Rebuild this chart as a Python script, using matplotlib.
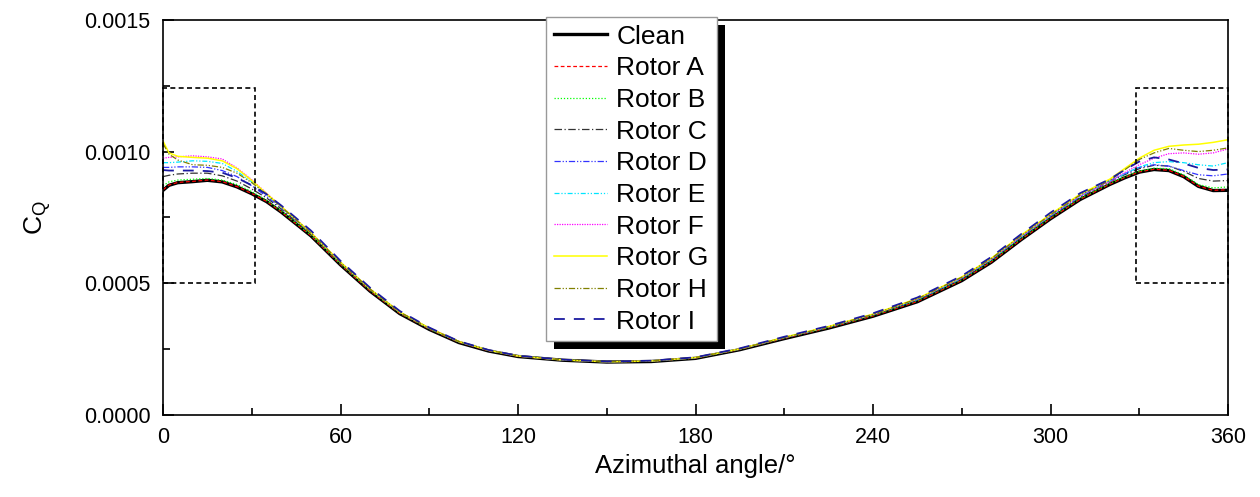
import matplotlib
matplotlib.use('Agg')
import matplotlib.pyplot as plt
from matplotlib.patches import Rectangle
from matplotlib.ticker import MultipleLocator, FormatStrFormatter

plt.rcParams['font.family'] = ['Liberation Sans', 'DejaVu Sans']

# azimuthal positions (deg) shared by every series
angle = [0, 2, 5, 10, 15, 20, 25, 30, 35, 40, 50, 60, 70, 80, 90, 100, 110, 120,
         135, 150, 165, 180, 195, 210, 225, 240, 255, 270, 280, 290, 300, 310,
         320, 325, 330, 335, 340, 345, 350, 355, 360]

clean = [0.000853, 0.000872, 0.000882, 0.000886, 0.000891, 0.000885, 0.000866, 0.000840,
         0.000810, 0.000770, 0.000680, 0.000570, 0.000470, 0.000385, 0.000325, 0.000275,
         0.000243, 0.000222, 0.000208, 0.000201, 0.000203, 0.000215, 0.000248, 0.000290,
         0.000330, 0.000375, 0.000430, 0.000510, 0.000580, 0.000665, 0.000745, 0.000818,
         0.000875, 0.000900, 0.000922, 0.000932, 0.000928, 0.000905, 0.000868, 0.000852,
         0.000853]
rotor_a = [0.000855, 0.000873, 0.000883, 0.000887, 0.000892, 0.000886, 0.000867, 0.000841,
           0.000811, 0.000771, 0.000681, 0.000571, 0.000471, 0.000386, 0.000326, 0.000276,
           0.000244, 0.000223, 0.000209, 0.000202, 0.000204, 0.000216, 0.000249, 0.000291,
           0.000331, 0.000376, 0.000431, 0.000511, 0.000581, 0.000666, 0.000746, 0.000819,
           0.000876, 0.000901, 0.000923, 0.000933, 0.000929, 0.000906, 0.000869, 0.000853,
           0.000855]
rotor_b = [0.000870, 0.000885, 0.000892, 0.000895, 0.000898, 0.000892, 0.000875, 0.000848,
           0.000815, 0.000774, 0.000683, 0.000573, 0.000473, 0.000387, 0.000327, 0.000277,
           0.000245, 0.000224, 0.000209, 0.000202, 0.000204, 0.000216, 0.000249, 0.000292,
           0.000332, 0.000378, 0.000434, 0.000514, 0.000584, 0.000669, 0.000749, 0.000822,
           0.000879, 0.000904, 0.000926, 0.000937, 0.000935, 0.000912, 0.000875, 0.000862,
           0.000866]
rotor_c = [0.000905, 0.000910, 0.000915, 0.000918, 0.000918, 0.000908, 0.000888, 0.000858,
           0.000824, 0.000782, 0.000688, 0.000576, 0.000475, 0.000389, 0.000328, 0.000278,
           0.000245, 0.000224, 0.000209, 0.000202, 0.000204, 0.000217, 0.000250, 0.000293,
           0.000334, 0.000380, 0.000436, 0.000517, 0.000588, 0.000673, 0.000753, 0.000826,
           0.000885, 0.000912, 0.000935, 0.000948, 0.000945, 0.000925, 0.000898, 0.000888,
           0.000890]
rotor_d = [0.000940, 0.000940, 0.000942, 0.000942, 0.000940, 0.000928, 0.000905, 0.000870,
           0.000830, 0.000786, 0.000690, 0.000578, 0.000477, 0.000390, 0.000329, 0.000278,
           0.000245, 0.000224, 0.000209, 0.000202, 0.000204, 0.000217, 0.000250, 0.000293,
           0.000334, 0.000381, 0.000438, 0.000519, 0.000590, 0.000676, 0.000756, 0.000830,
           0.000890, 0.000915, 0.000940, 0.000950, 0.000945, 0.000928, 0.000912, 0.000908,
           0.000915]
rotor_e = [0.000958, 0.000958, 0.000960, 0.000965, 0.000963, 0.000955, 0.000925, 0.000885,
           0.000838, 0.000790, 0.000692, 0.000579, 0.000478, 0.000391, 0.000329, 0.000279,
           0.000246, 0.000224, 0.000209, 0.000202, 0.000205, 0.000218, 0.000251, 0.000294,
           0.000335, 0.000382, 0.000439, 0.000520, 0.000591, 0.000677, 0.000757, 0.000831,
           0.000888, 0.000915, 0.000942, 0.000958, 0.000962, 0.000958, 0.000950, 0.000945,
           0.000958]
rotor_f = [0.000975, 0.000978, 0.000980, 0.000984, 0.000980, 0.000972, 0.000938, 0.000893,
           0.000842, 0.000792, 0.000693, 0.000580, 0.000478, 0.000391, 0.000330, 0.000279,
           0.000246, 0.000224, 0.000209, 0.000202, 0.000205, 0.000218, 0.000251, 0.000294,
           0.000335, 0.000382, 0.000440, 0.000521, 0.000592, 0.000678, 0.000758, 0.000832,
           0.000885, 0.000920, 0.000950, 0.000975, 0.000992, 0.000995, 0.000990, 0.000995,
           0.001010]
rotor_g = [0.001040, 0.000995, 0.000982, 0.000978, 0.000975, 0.000965, 0.000935, 0.000890,
           0.000840, 0.000791, 0.000692, 0.000580, 0.000478, 0.000391, 0.000330, 0.000279,
           0.000246, 0.000224, 0.000209, 0.000202, 0.000205, 0.000218, 0.000251, 0.000295,
           0.000336, 0.000383, 0.000442, 0.000524, 0.000595, 0.000682, 0.000762, 0.000838,
           0.000895, 0.000935, 0.000975, 0.001005, 0.001020, 0.001025, 0.001028, 0.001035,
           0.001045]
rotor_h = [0.001030, 0.000990, 0.000968, 0.000950, 0.000948, 0.000940, 0.000918, 0.000882,
           0.000838, 0.000790, 0.000691, 0.000579, 0.000478, 0.000391, 0.000329, 0.000279,
           0.000246, 0.000224, 0.000209, 0.000202, 0.000205, 0.000218, 0.000251, 0.000294,
           0.000335, 0.000382, 0.000441, 0.000523, 0.000594, 0.000680, 0.000760, 0.000835,
           0.000890, 0.000930, 0.000970, 0.000995, 0.001012, 0.001005, 0.001000, 0.001005,
           0.001014]
rotor_i = [0.000930, 0.000928, 0.000928, 0.000928, 0.000926, 0.000920, 0.000900, 0.000872,
           0.000838, 0.000795, 0.000700, 0.000585, 0.000483, 0.000395, 0.000332, 0.000280,
           0.000247, 0.000225, 0.000210, 0.000203, 0.000206, 0.000219, 0.000253, 0.000297,
           0.000338, 0.000386, 0.000446, 0.000528, 0.000600, 0.000686, 0.000768, 0.000842,
           0.000895, 0.000930, 0.000962, 0.000978, 0.000970, 0.000955, 0.000938, 0.000930,
           0.000932]

labels = ['Clean', 'Rotor A', 'Rotor B', 'Rotor C', 'Rotor D', 'Rotor E',
          'Rotor F', 'Rotor G', 'Rotor H', 'Rotor I']
series = [clean, rotor_a, rotor_b, rotor_c, rotor_d, rotor_e,
          rotor_f, rotor_g, rotor_h, rotor_i]

# zoom-in boxes marking the regions where the rotors differ (deg, CQ)
boxes = [(0, 31), (329, 360)]
box_lo, box_hi = 0.0005, 0.00124

styles = [
    dict(color='black', lw=2.4, ls='-'),
    dict(color='#ff0000', lw=0.9, ls=(0, (3, 2))),
    dict(color='#00ff00', lw=0.9, ls=(0, (1, 1.5))),
    dict(color='#333333', lw=0.9, ls=(0, (6, 2, 1, 2))),
    dict(color='#3333ff', lw=0.9, ls=(0, (5, 1.5, 1, 1.5, 1, 1.5))),
    dict(color='#00e5ff', lw=0.9, ls=(0, (4, 1.5, 1, 1.5, 1, 1.5))),
    dict(color='#ff00ff', lw=0.9, ls=(0, (1, 1))),
    dict(color='#ffff00', lw=1.1, ls='-'),
    dict(color='#808000', lw=0.9, ls=(0, (5, 1.5, 1, 1.5, 1, 1.5))),
    dict(color='#1a1aa0', lw=1.3, ls=(0, (6, 5))),
]

fig = plt.figure(figsize=(12.6, 4.97), dpi=100)
ax = fig.add_axes([0.1294, 0.165, 0.8452, 0.795])

for ys, lab, st in zip(series, labels, styles):
    ax.plot(angle, ys, label=lab, **st)

for x0, x1 in boxes:
    ax.add_patch(Rectangle((x0, box_lo), x1 - x0, box_hi - box_lo, fill=False,
                           ec='black', lw=1.2, ls=(0, (3, 2)), zorder=3, clip_on=False))

ax.set_xlim(0, 360)
ax.set_ylim(0, 0.0015)
ax.xaxis.set_major_locator(MultipleLocator(60))
ax.xaxis.set_minor_locator(MultipleLocator(30))
ax.yaxis.set_major_locator(MultipleLocator(0.0005))
ax.yaxis.set_minor_locator(MultipleLocator(0.00025))
ax.yaxis.set_major_formatter(FormatStrFormatter('%.4f'))
ax.tick_params(which='both', direction='in', labelsize=15.5, width=1.2, pad=9)
ax.tick_params(which='major', length=8)
ax.tick_params(which='minor', length=5)
for sp in ax.spines.values():
    sp.set_linewidth(1.2)

ax.set_xlabel('Azimuthal angle/\u00b0', fontsize=18.5, labelpad=4)
ax.set_ylabel('C$_\\mathregular{Q}$', fontsize=19, labelpad=22)

leg = ax.legend(loc='upper left', bbox_to_anchor=(0.36, 1.008), borderaxespad=0,
                fontsize=19, frameon=True, fancybox=False, framealpha=1,
                edgecolor='#999999', handlelength=2.0, handletextpad=0.35,
                borderpad=0.3, labelspacing=0.29)
leg.get_frame().set_linewidth(1.0)
leg.set_zorder(6)

# solid drop shadow behind the legend box
fig.canvas.draw()
bb = leg.get_window_extent()
ax.add_patch(Rectangle((bb.x0 + 8, bb.y0 - 8), bb.width, bb.height, transform=None,
                       fc='black', ec='none', zorder=5.5, clip_on=False))

fig.savefig('out.png', dpi=100)
